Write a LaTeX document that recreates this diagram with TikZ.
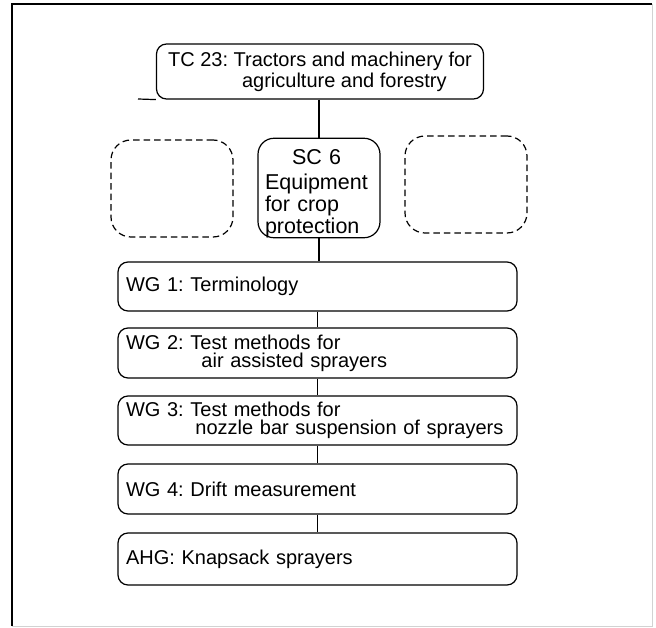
\documentclass[tikz,border=0pt]{standalone}
\usepackage{fontspec}
\setmainfont{Liberation Sans}
\frenchspacing
\begin{document}
\begin{tikzpicture}[x=1pt,y=-1pt,
  box/.style={draw, line width=1.2pt, rounded corners=10pt, inner sep=0pt},
  wg/.style={box, minimum width=399pt, minimum height=49pt, text width=383pt, align=left, font=\fontsize{20}{18}\selectfont},
  ghost/.style={draw, dash pattern=on 6.5pt off 4pt, line width=1.2pt, rounded corners=20pt, minimum width=122pt, minimum height=97pt, inner sep=0pt},
  link/.style={line width=1.2pt}]
\useasboundingbox (0,0) rectangle (656,628);
% frame
\draw[line width=1.2pt] (12,626) -- (12,4) -- (652,4);
\draw[gray!35, line width=1pt] (652,4) -- (652,626) -- (12,626);
% top committee
\node[box, minimum width=327pt, minimum height=55pt, align=left,
      font=\fontsize{20}{21}\selectfont] (tc) at (320,71.5)
  {TC 23: Tractors and machinery for\\\hspace*{74pt}agriculture and forestry};
\coordinate (stub) at (138,99);
\draw[link] (stub) -- (tc.south west);
% sub committee
\node[box, rounded corners=16pt, minimum width=122pt, minimum height=98pt, text width=108pt,
      align=left, font=\fontsize{21.5}{22}\selectfont] (sc) at (319,188)
  {\rule{0pt}{26pt}\hspace*{27pt}SC 6\\[3pt]Equipment\\for crop\\protection};
\node[ghost] (gl) at (172,188.5) {};
\node[ghost] (gr) at (466,184.5) {};
% working groups
\node[wg] (wg1) at (317.5,286.5) {WG 1: Terminology};
\node[wg, minimum height=50pt] (wg2) at (317.5,353) {WG 2: Test methods for\\\hphantom{WG 2:\ }\hspace*{11pt}air assisted sprayers};
\node[wg] (wg3) at (317.5,420.5) {WG 3: Test methods for\\\hphantom{WG 3:\ }\hspace*{5pt}nozzle bar suspension of sprayers};
\node[wg, minimum height=50pt] (wg4) at (317.5,489) {WG 4: Drift measurement};
\node[wg, minimum height=52pt] (ahg) at (317.5,559) {AHG: Knapsack sprayers};
% connectors
\draw[link] (tc.south -| sc.north) -- (sc.north);
\draw[link] (sc.south) -- (sc.south |- wg1.north);
\draw[link] (wg1.south) -- (wg2.north);
\draw[link] (wg2.south) -- (wg3.north);
\draw[link] (wg3.south) -- (wg4.north);
\draw[link] (wg4.south) -- (ahg.north);
\end{tikzpicture}
\end{document}
